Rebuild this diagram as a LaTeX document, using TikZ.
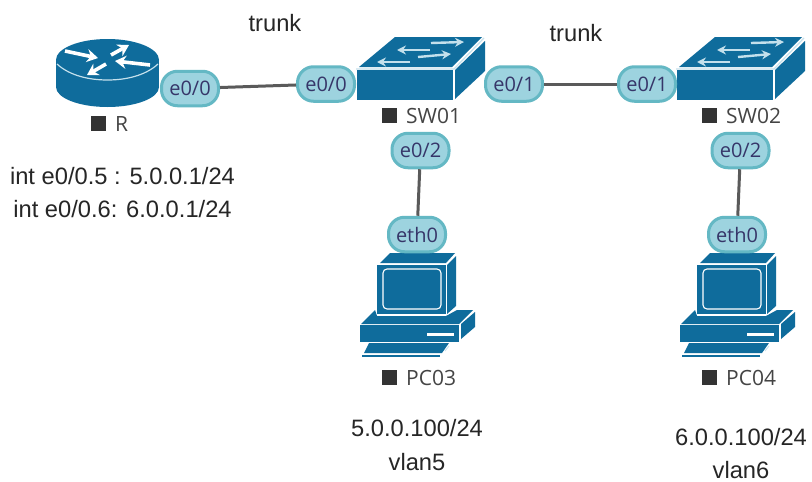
\documentclass[tikz,border=0pt]{standalone}
\usepackage{fontspec}
\setmainfont{Liberation Sans}
\newfontfamily\labelfont{Open Sans}
\usetikzlibrary{arrows.meta}
\definecolor{devblue}{HTML}{0F6C9C}
\definecolor{pillfill}{HTML}{9DD3DF}
\definecolor{pillline}{HTML}{64B8C4}
\definecolor{linkgrey}{HTML}{5A5A5A}
\definecolor{labelgrey}{HTML}{444444}
\definecolor{softline}{HTML}{C4E0EC}
\tikzset{
  port/.style={draw=pillline,fill=pillfill,line width=3pt,rounded corners=16pt,minimum width=57pt,minimum height=34.5pt,inner sep=0pt,font=\labelfont\fontsize{20}{22}\selectfont,text=labelgrey!80!blue},
  link/.style={draw=linkgrey,line width=3pt},
  note/.style={font=\fontsize{23.7}{26}\selectfont,text=black!85,inner sep=0pt},
  devname/.style={font=\labelfont\fontsize{21}{24}\selectfont,text=labelgrey,inner sep=0pt,anchor=west},
  devsquare/.style={fill=black!80,minimum size=15pt,inner sep=0pt,draw=none},
  flow/.style={draw=white,line width=3.6pt,-{Stealth[length=11pt,width=13pt]}},
  flowsoft/.style={draw=softline,line width=2.4pt,-{Stealth[length=9pt,width=9pt]}},
  pics/routericon/.style={code={
    \fill[devblue] (107.5,87) ellipse[x radius=51.5,y radius=20];
    \fill[devblue] (56,60) rectangle (159,87);
    \fill[devblue] (107.5,60) ellipse[x radius=51.5,y radius=21];
    \draw[softline,line width=1.2pt] (57,64) .. controls (70,76) and (90,80) .. (107.5,80) .. controls (125,80) and (145,76) .. (158,64);
    \draw[flow] (65,51) -- (98,58);
    \draw[flow] (111,55) -- (129,45);
    \draw[flow] (150,65) -- (115,61);
    \draw[flow] (106,64) -- (87,75);
  }},
  pics/switchicon/.style={code={
    \fill[devblue] (357,70) rectangle (453,100);
    \fill[devblue] (359,67) -- (395,37) -- (482,37) -- (452,67) -- cycle;
    \fill[devblue] (455,70) -- (485,41) -- (485,71) -- (455,99) -- cycle;
    \draw[softline,line width=1.2pt] (356,69) -- (454,69) -- (484,38);
    \draw[flowsoft] (431,43) -- (464,42);
    \draw[flowsoft] (430,50) -- (397,50);
    \draw[flowsoft] (418,57) -- (451,54);
    \draw[flowsoft] (410,62) -- (377,62);
  }},
  pics/pcicon/.style={code={
    \fill[devblue] (380,263) -- (390,253) -- (455,253) -- (446,263) -- cycle;
    \fill[devblue] (447,265) -- (456,256) -- (456,306) -- (447,314) -- cycle;
    \fill[devblue] (377,265) rectangle (446,314);
    \draw[white,line width=1.1pt,rounded corners=4pt] (383,269) rectangle (441,309);
    \fill[devblue] (361,324) -- (375,310) -- (377,316) -- (446,316) -- (457,310) -- (473,310) -- (459,324) -- cycle;
    \fill[devblue] (360,325) rectangle (459,342);
    \fill[devblue] (461,324) -- (475,312) -- (475,327) -- (461,339) -- cycle;
    \fill[white] (427,332.5) rectangle (454,335.5);
    \fill[devblue] (369,343) -- (449,343) -- (442,353) -- (364,353) -- cycle;
    \fill[devblue] (362,355) rectangle (440,357);
    \draw[softline,line width=.8pt] (445,351) -- (449,346);
  }}
}
\begin{document}
\begin{tikzpicture}[x=1pt,y=-1pt]
\useasboundingbox[fill=white] (0,0) rectangle (812,482);
% device icons
\pic (rtr) at (0,0) {routericon};
\pic (swa) at (0,0) {switchicon};
\pic (swb) at (320,0) {switchicon};
\pic (pca) at (0,0) {pcicon};
\pic (pcb) at (320,0) {pcicon};
% ports
\node[port] (re0) at (190,88.5) {e0/0};
\node[port] (sae0) at (326,84) {e0/0};
\node[port] (sae1) at (514,84) {e0/1};
\node[port] (sae2) at (420.5,150.5) {e0/2};
\node[port] (pcaeth) at (417,234.5) {eth0};
\node[port] (sbe1) at (647,84) {e0/1};
\node[port] (sbe2) at (740.5,150.5) {e0/2};
\node[port] (pcbeth) at (737,234.5) {eth0};
% links
\draw[link] (re0) -- (sae0);
\draw[link] (sae1) -- (sbe1);
\draw[link] (sae2) -- (pcaeth);
\draw[link] (sbe2) -- (pcbeth);
% device names
\node[devsquare] (rsq) at (98.5,123.5) {};
\node[devname] (rname) at (115,124) {R};
\node[devsquare] (sasq) at (389,115.5) {};
\node[devname] (saname) at (406,116) {SW01};
\node[devsquare] (sbsq) at (709,115.5) {};
\node[devname] (sbname) at (726,116) {SW02};
\node[devsquare] (pasq) at (389,377) {};
\node[devname] (paname) at (406,378) {PC03};
\node[devsquare] (pbsq) at (709,377) {};
\node[devname] (pbname) at (726,378) {PC04};
% notes
\node[note] (tra) at (275,23) {trunk};
\node[note] (trb) at (576,33) {trunk};
\node[note] (inta) at (122.5,176) {int e0/0.5 : 5.0.0.1/24};
\node[note] (intb) at (122.5,209) {int e0/0.6: 6.0.0.1/24};
\node[note] (ipa) at (417,428) {5.0.0.100/24};
\node[note] (vla) at (417,462) {vlan5};
\node[note] (ipb) at (741,437) {6.0.0.100/24};
\node[note] (vlb) at (741,470) {vlan6};
\end{tikzpicture}
\end{document}
